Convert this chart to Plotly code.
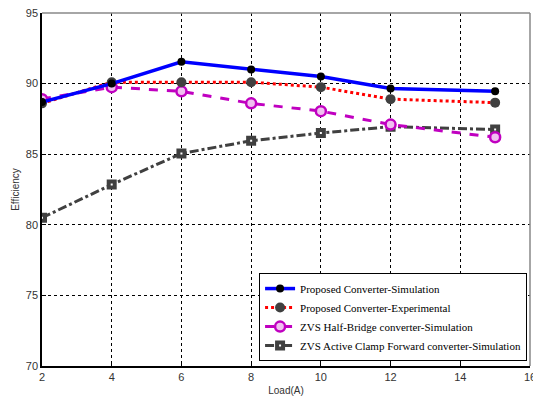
import plotly.graph_objects as go

load = [2, 4, 6, 8, 10, 12, 15]
prop_sim = [88.7, 90.0, 91.55, 91.0, 90.5, 89.65, 89.45]
prop_exp = [88.6, 90.1, 90.1, 90.1, 89.75, 88.9, 88.65]
zvs_hb = [88.9, 89.75, 89.45, 88.6, 88.05, 87.1, 86.2]
zvs_acf = [80.5, 82.85, 85.05, 85.95, 86.5, 86.95, 86.75]

names = ["Proposed Converter-Simulation",
         "Proposed Converter-Experimental",
         "ZVS Half-Bridge converter-Simulation",
         "ZVS Active Clamp Forward converter-Simulation"]

x_ticks = [2, 4, 6, 8, 10, 12, 14, 16]
y_ticks = [70, 75, 80, 85, 90, 95]

fig = go.Figure()
fig.add_trace(go.Scatter(x=load, y=zvs_acf, name=names[3], mode="lines+markers",
                         line=dict(color="#404040", width=3, dash="dashdot"),
                         marker=dict(symbol="square", size=6, color="white",
                                     line=dict(color="#404040", width=4))))
fig.add_trace(go.Scatter(x=load, y=zvs_hb, name=names[2], mode="lines+markers",
                         line=dict(color="#c000c0", width=3, dash="dash"),
                         marker=dict(symbol="circle", size=10, color="#f0c0f0",
                                     line=dict(color="#c000c0", width=2.5))))
fig.add_trace(go.Scatter(x=load, y=prop_exp, name=names[1], mode="lines+markers",
                         line=dict(color="#ff0000", width=3, dash="dot"),
                         marker=dict(symbol="circle", size=10, color="#404040")))
fig.add_trace(go.Scatter(x=load, y=prop_sim, name=names[0], mode="lines+markers",
                         line=dict(color="#0000ff", width=3.5),
                         marker=dict(symbol="circle", size=8, color="black")))

axis_common = dict(showgrid=True, gridcolor="black", griddash="dot", gridwidth=1,
                   zeroline=False, showline=True, linecolor="black", linewidth=1.5,
                   ticks="inside", ticklen=4, tickcolor="black",
                   ticklabeloverflow="allow", automargin=False,
                   tickfont=dict(family="Liberation Sans, Arial", size=11, color="#333333"))

fig.update_xaxes(range=[2, 16], tickvals=x_ticks,
                 title=dict(text="Load(A)", font=dict(family="Liberation Sans, Arial", size=10, color="#333333"),
                            standoff=5),
                 **axis_common)
fig.update_yaxes(range=[70, 95], tickvals=y_ticks,
                 title=dict(text="Efficiency", font=dict(family="Liberation Sans, Arial", size=10, color="#333333"),
                            standoff=4),
                 **axis_common)

# top and right frame lines (gray)
fig.add_shape(type="line", xref="paper", yref="paper", x0=0, x1=1, y0=1, y1=1,
              line=dict(color="#888888", width=1.5))
fig.add_shape(type="line", xref="paper", yref="paper", x0=1, x1=1, y0=0, y1=1,
              line=dict(color="#888888", width=1.5))

fig.update_layout(
    width=533, height=397,
    margin=dict(l=42, r=3, t=13, b=31),
    paper_bgcolor="white", plot_bgcolor="white",
    showlegend=True,
    legend=dict(x=0.994, y=0.014, xanchor="right", yanchor="bottom",
                bgcolor="white", bordercolor="black", borderwidth=1,
                font=dict(family="Liberation Serif, Times New Roman", size=11, color="black"),
                traceorder="reversed", itemwidth=30, tracegroupgap=0),
)

fig.write_html("out.html")
